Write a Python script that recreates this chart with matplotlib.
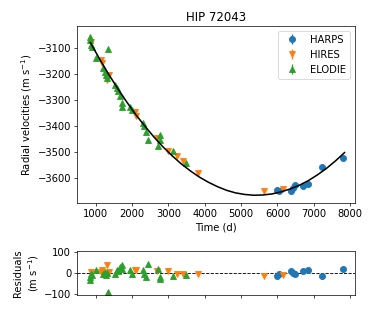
import matplotlib
matplotlib.use("Agg")
import matplotlib.pyplot as plt

# ---- data ----
harps_t = [5983, 6055, 6369, 6441, 6488, 6700, 6838, 7223, 7802]
harps_rv = [-3646, -3649, -3649, -3636, -3624, -3628, -3620, -3556, -3521]
harps_res = [-13, -6, 10, 3, -6, 10, 13, -14, 18]

hires_t = [855, 1143, 1170, 1300, 1355, 2080, 2100, 2678, 2997, 3229, 3410, 3824, 5620, 6149]
hires_rv = [-3075, -3145, -3157, -3221, -3202, -3343, -3362, -3445, -3496, -3515, -3534, -3579, -3649, -3640]
hires_res = [6, 6, 14, 38, 6, 14, 14, 10, 10, -6, -3, -6, -13, -10]

elodie_t = [830, 850, 875, 900, 1015, 1200, 1250, 1275, 1300, 1328,
            1540, 1585, 1620, 1660, 1715, 1730, 1950, 1995, 2310, 2330,
            2385, 2446, 2720, 2755, 2770, 3135, 3485]
elodie_rv = [-3055, -3068, -3087, -3094, -3138, -3177, -3190, -3203, -3215, -3103,
             -3241, -3253, -3266, -3285, -3311, -3324, -3324, -3336, -3387, -3400,
             -3420, -3451, -3477, -3451, -3432, -3496, -3541]
elodie_res = [-34, -18, -6, -10, 14, -2, 5, -10, 2, -90,
              -6, 14, 8, 30, 38, 22, 14, -6, 14, -6,
              -18, 42, 22, -18, -29, -13, -10]

model_t = [850, 1100, 1350, 1600, 1850, 2100, 2350, 2600, 2850, 3100, 3350, 3600,
           3850, 4100, 4350, 4600, 4850, 5100, 5350, 5600, 5850, 6100, 6350, 6600,
           6850, 7100, 7350, 7600, 7850]
model_rv = [-3078, -3140, -3199, -3254, -3306, -3355, -3399, -3441, -3479, -3513,
            -3544, -3571, -3595, -3615, -3632, -3646, -3656, -3662, -3665, -3664,
            -3660, -3652, -3641, -3627, -3609, -3587, -3562, -3533, -3501]

err = 3

plt.rcParams['font.size'] = 11.5
W, H, DPI = 374, 312, 62.4
fig = plt.figure(figsize=(W / DPI, H / DPI), dpi=DPI)
ax = fig.add_axes([0.2067, 0.3484, 0.7425, 0.5692])
axr = fig.add_axes([0.2067, 0.0545, 0.7425, 0.142])

ms = 7
ax.errorbar(harps_t, harps_rv, yerr=err, fmt='o', color='C0', ms=ms, label='HARPS')
ax.errorbar(hires_t, hires_rv, yerr=err, fmt='v', color='C1', ms=ms, label='HIRES')
ax.errorbar(elodie_t, elodie_rv, yerr=err, fmt='^', color='C2', ms=ms, label='ELODIE')
ax.plot(model_t, model_rv, color='black', lw=1.8, zorder=5)

ax.set_xlim(490, 8138)
ax.set_ylim(-3696, -3013)
ax.set_yticks([-3600, -3500, -3400, -3300, -3200, -3100])
ax.set_xticks([1000, 2000, 3000, 4000, 5000, 6000, 7000, 8000])
ax.set_xlabel('Time (d)')
ax.set_ylabel('Radial velocities (m s$^{-1}$)')
ax.set_title('HIP 72043', fontsize=13.5)
ax.legend(loc='upper right')

axr.errorbar(harps_t, harps_res, yerr=err, fmt='o', color='C0', ms=ms)
axr.errorbar(hires_t, hires_res, yerr=err, fmt='v', color='C1', ms=ms)
axr.errorbar(elodie_t, elodie_res, yerr=err, fmt='^', color='C2', ms=ms)
axr.axhline(0, color='black', ls='--', lw=1, zorder=0)
axr.set_xlim(490, 8138)
axr.set_ylim(-105, 108)
axr.set_yticks([-100, 0, 100])
axr.set_xticks([1000, 2000, 3000, 4000, 5000, 6000, 7000, 8000])
axr.set_xticklabels([])
axr.set_ylabel('Residuals\n(m s$^{-1}$)')

fig.savefig('out.png', dpi=DPI)
